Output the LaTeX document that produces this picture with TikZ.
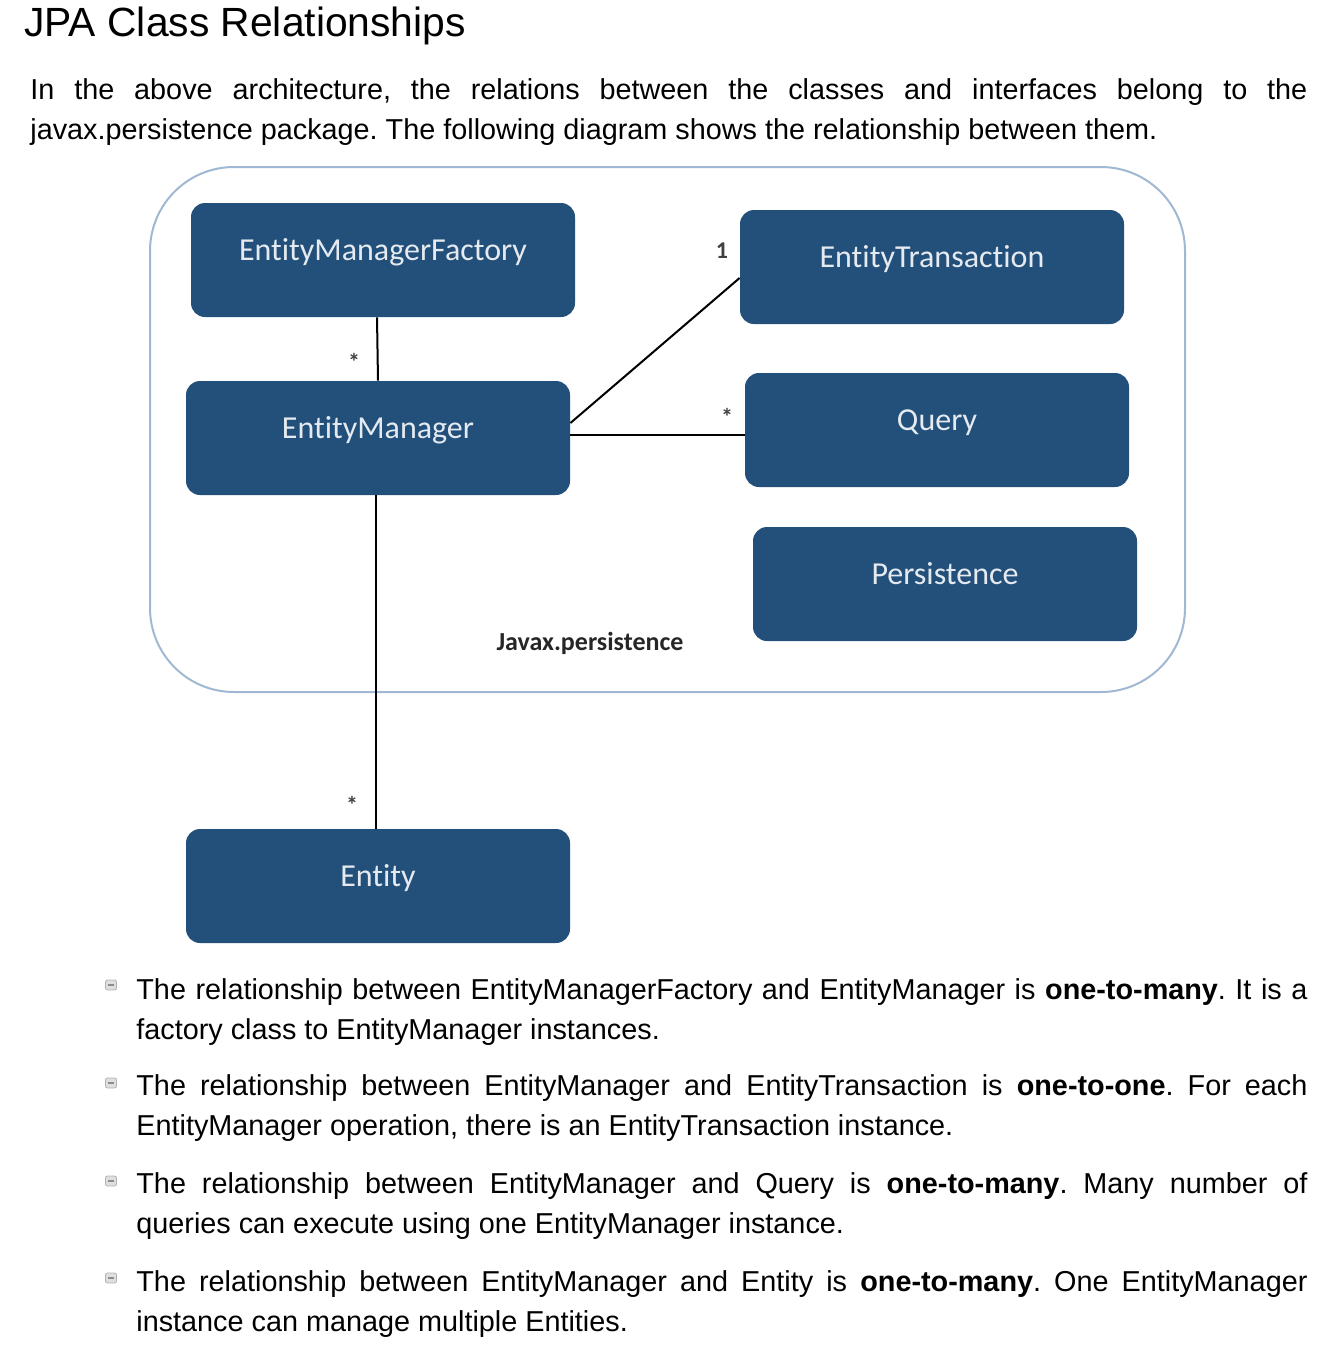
\documentclass[tikz,border=0pt]{standalone}
\usepackage{fontspec}
\setmainfont{Liberation Sans}
\newfontfamily\calfont[Ligatures=NoCommon]{Carlito}
\definecolor{boxblue}{RGB}{35,80,122}
\definecolor{boxtext}{RGB}{228,234,240}
\definecolor{pkgline}{RGB}{160,184,210}
\setlength\parindent{0pt}
\frenchspacing
\hyphenpenalty=10000 \exhyphenpenalty=10000
\newcommand\parafont{\fontsize{14.4}{20}\selectfont\fontdimen4\font=0pt\relax}

\begin{document}
\begin{tikzpicture}[x=0.5pt, y=-0.5pt,
	cls/.style={fill=boxblue, rounded corners=7pt, minimum width=192pt, minimum height=57pt, inner sep=0pt,
		text=boxtext, font=\calfont\fontsize{16}{18}\selectfont, text height=8pt, text depth=8pt},
	mult/.style={font=\calfont\bfseries\fontsize{12}{12}\selectfont, inner sep=0pt, text=black!75},
	para/.style={anchor=north west, inner sep=0pt, align=justify, font=\parafont},
	bul/.style={draw=gray!60, fill=gray!25, rounded corners=1pt, minimum width=5.5pt, minimum height=5pt, inner sep=0pt,
		path picture={\draw[gray!90, line width=0.7pt] ([xshift=-1.5pt]path picture bounding box.center) -- ([xshift=1.5pt]path picture bounding box.center);}},
	link/.style={line width=1pt}]
\useasboundingbox (0,0) rectangle (1340,1350);

% heading and intro
\node[anchor=base west, inner sep=0pt, font=\fontsize{20.4}{24}\selectfont] (title) at (24,36) {JPA Class Relationships};
\node[para, text width=638.5pt] (intro) at (30,78) {In the above architecture, the relations between the classes and interfaces belong to the javax.persistence package. The following diagram shows the relationship between them.};

% package frame
\draw[pkgline, line width=1pt, rounded corners=42pt] (150,167) rectangle (1185,692);
\node[font=\calfont\bfseries\fontsize{13}{14}\selectfont, inner sep=0pt, text=black!85] (pkg) at (590,643) {Javax.persistence};

% classes
\node[cls] (emf) at (383,260) {EntityManagerFactory};
\node[cls] (et) at (932,267) {EntityTransaction};
\node[cls] (em) at (378,438) {EntityManager};
\node[cls] (q) at (937,430) {Query};
\node[cls] (pers) at (945,584) {Persistence};
\node[cls] (ent) at (378,886) {Entity};

% relations
\draw[link] ([xshift=-3pt]emf.south) -- (em.north);
\draw[link] ([yshift=7.5pt]em.east) -- ([yshift=-5.5pt]et.west);
\draw[link] ([yshift=1.5pt]em.east) -- ([yshift=-2.5pt]q.west);
\draw[link] ([xshift=-1pt]em.south) -- ([xshift=-1pt]ent.north);

\node[mult] (m-emf) at (354,362) {*};
\node[mult] (m-et) at (722,251) {1};
\node[mult] (m-q) at (727,417) {*};
\node[mult] (m-ent) at (352,805) {*};

% bullet list
\foreach \y in {985,1083,1181,1278}
	\node[bul] (b\y) at (111,\y) {};

\node[para, text width=585.5pt] (t1) at (136,978) {The relationship between EntityManagerFactory and EntityManager is \textbf{one-to-many}. It is a factory class to EntityManager instances.};
\node[para, text width=585.5pt] (t2) at (136,1074) {The relationship between EntityManager and EntityTransaction is \textbf{one-to-one}. For each EntityManager operation, there is an EntityTransaction instance.};
\node[para, text width=585.5pt] (t3) at (136,1172) {The relationship between EntityManager and Query is \textbf{one-to-many}. Many number of queries can execute using one EntityManager instance.};
\node[para, text width=585.5pt] (t4) at (136,1270) {The relationship between EntityManager and Entity is \textbf{one-to-many}. One EntityManager instance can manage multiple Entities.};

\end{tikzpicture}
\end{document}
